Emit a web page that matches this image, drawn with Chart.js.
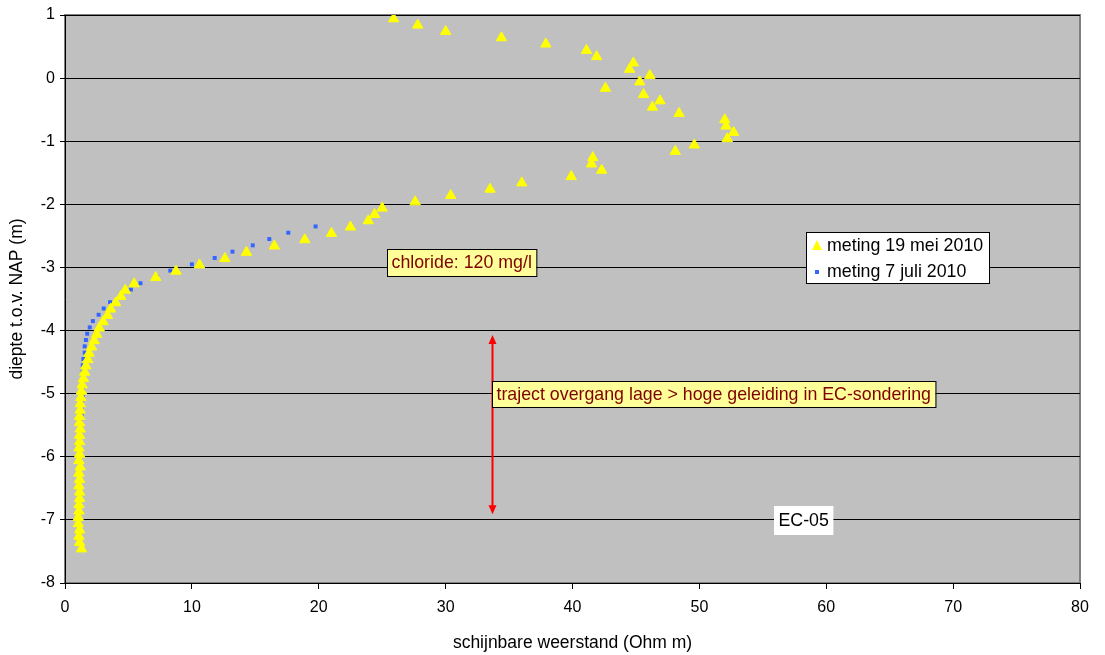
<!DOCTYPE html>
<html>
<head>
<meta charset="utf-8">
<script src="https://cdn.jsdelivr.net/npm/chart.js@4.4.1/dist/chart.umd.min.js"></script>
<style>
  html, body { margin: 0; padding: 0; background: #ffffff; }
  #wrap { width: 1105px; height: 655px; }
</style>
</head>
<body>
<div id="wrap"><canvas id="myChart" width="1105" height="655"></canvas></div>
<script>
'use strict';

/* Data: meting 19 mei 2010 (diepte m t.o.v. NAP, weerstand Ohm m) */
const depthMei = [
  0.94, 0.84, 0.74, 0.64, 0.54, 0.44, 0.34, 0.24, 0.14, 0.04,
  -0.06, -0.16, -0.26, -0.36, -0.46, -0.56, -0.66, -0.76, -0.86, -0.96,
  -1.06, -1.16, -1.26, -1.36, -1.46, -1.56, -1.66, -1.76, -1.86, -1.96,
  -2.06, -2.16, -2.26, -2.36, -2.46, -2.56, -2.66, -2.76, -2.86, -2.96,
  -3.06, -3.16, -3.26, -3.36, -3.46, -3.56, -3.66, -3.76, -3.86, -3.96,
  -4.06, -4.16, -4.26, -4.36, -4.46, -4.56, -4.66, -4.76, -4.86, -4.96,
  -5.06, -5.16, -5.26, -5.36, -5.46, -5.56, -5.66, -5.76, -5.86, -5.96,
  -6.06, -6.16, -6.26, -6.36, -6.46, -6.56, -6.66, -6.76, -6.86, -6.96,
  -7.06, -7.16, -7.26, -7.36, -7.46
];
const resMei = [
  25.9, 27.8, 30.0, 34.4, 37.9, 41.1, 41.9, 44.8, 44.5, 46.1,
  45.3, 42.6, 45.6, 46.9, 46.3, 48.4, 52.0, 52.1, 52.7, 52.2,
  49.6, 48.1, 41.6, 41.5, 42.3, 39.9, 36.0, 33.5, 30.4, 27.6,
  25.0, 24.4, 23.9, 22.5, 21.0, 18.9, 16.5, 14.3, 12.6, 10.6,
  8.75, 7.15, 5.45, 4.75, 4.4, 4.0, 3.6, 3.35, 3.0, 2.7,
  2.5, 2.3, 2.1, 1.9, 1.8, 1.65, 1.55, 1.45, 1.35, 1.3,
  1.25, 1.2, 1.2, 1.15, 1.15, 1.2, 1.15, 1.15, 1.1, 1.15,
  1.1, 1.2, 1.1, 1.15, 1.1, 1.15, 1.15, 1.1, 1.1, 1.05,
  1.05, 1.15, 1.1, 1.15, 1.3
];

/* Data: meting 7 juli 2010 */
const depthJuli = [
  -2.35, -2.45, -2.55, -2.65, -2.75, -2.85, -2.95, -3.05, -3.15, -3.25,
  -3.35, -3.45, -3.55, -3.65, -3.75, -3.85, -3.95, -4.05, -4.15, -4.25,
  -4.35, -4.45, -4.55, -4.65, -4.75, -4.85, -4.95, -5.05, -5.15, -5.25,
  -5.35, -5.45, -5.55, -5.65, -5.75, -5.85, -5.95, -6.05
];
const resJuli = [
  19.75, 17.6, 16.1, 14.8, 13.2, 11.8, 10.0, 8.3, 7.25, 5.95,
  5.2, 4.35, 3.55, 3.05, 2.65, 2.2, 1.95, 1.75, 1.65, 1.55,
  1.55, 1.45, 1.4, 1.4, 1.4, 1.4, 1.4, 1.4, 1.3, 1.3,
  1.3, 1.25, 1.2, 1.2, 1.15, 1.15, 1.15, 1.15
];

const seriesNames = ['meting 19 mei 2010', 'meting 7 juli 2010'];
const xTickStep = 10;   // 0 .. 80
const yTickStep = 1;    // -8 .. 1

const FONT = 'Arial, "Liberation Sans", sans-serif';
const NOTE_FONT = '17.8px ' + FONT;

function toPoints(xs, ys) {
  return xs.map((x, i) => ({ x: x, y: ys[i] }));
}

/* Plot area background and frame */
const plotFrame = {
  id: 'plotFrame',
  beforeDraw(chart) {
    const { ctx, chartArea: a } = chart;
    ctx.save();
    ctx.fillStyle = '#C0C0C0';
    ctx.fillRect(a.left, a.top, a.right - a.left, a.bottom - a.top);
    ctx.strokeStyle = '#808080';
    ctx.lineWidth = 2;
    ctx.strokeRect(a.left, a.top, a.right - a.left, a.bottom - a.top);
    ctx.restore();
  }
};

/* Annotations: text boxes, arrow and legend */
const notes = {
  id: 'notes',
  afterDatasetsDraw(chart) {
    const { ctx } = chart;
    const xs = chart.scales.x, ys = chart.scales.y;
    const px = v => xs.getPixelForValue(v);
    const py = v => ys.getPixelForValue(v);

    function box(text, x, y, h, fill, stroke, color) {
      ctx.font = NOTE_FONT;
      const w = ctx.measureText(text).width + 9;
      ctx.fillStyle = fill;
      ctx.fillRect(x, y, w, h);
      if (stroke) {
        ctx.strokeStyle = stroke;
        ctx.lineWidth = 1;
        ctx.strokeRect(x + 0.5, y + 0.5, w, h);
      }
      ctx.fillStyle = color;
      ctx.textBaseline = 'middle';
      ctx.textAlign = 'left';
      ctx.fillText(text, x + 4.5, y + h / 2 + 1);
    }

    ctx.save();

    // red double arrow
    const ax = Math.round(px(33.65)) + 0.5;
    const ay1 = py(-4.07), ay2 = py(-6.91);
    ctx.strokeStyle = '#FF0000';
    ctx.fillStyle = '#FF0000';
    ctx.lineWidth = 2;
    ctx.beginPath();
    ctx.moveTo(ax, ay1 + 6);
    ctx.lineTo(ax, ay2 - 6);
    ctx.stroke();
    ctx.beginPath();
    ctx.moveTo(ax, ay1);
    ctx.lineTo(ax - 4, ay1 + 9);
    ctx.lineTo(ax + 4, ay1 + 9);
    ctx.closePath();
    ctx.fill();
    ctx.beginPath();
    ctx.moveTo(ax, ay2);
    ctx.lineTo(ax - 4, ay2 - 9);
    ctx.lineTo(ax + 4, ay2 - 9);
    ctx.closePath();
    ctx.fill();

    box('chloride: 120 mg/l', Math.round(px(25.35)), Math.round(py(-2.7)), 27, '#FFFF99', '#000000', '#800000');
    box('traject overgang lage > hoge geleiding in EC-sondering', Math.round(px(33.65)), Math.round(py(-4.8)), 26, '#FFFF99', '#000000', '#800000');
    box('EC-05', Math.round(px(55.9)), Math.round(py(-6.78)), 29, '#FFFFFF', null, '#000000');

    // legend
    const lx = 806, ly = 232, lw = 183, lh = 51;
    ctx.fillStyle = '#FFFFFF';
    ctx.fillRect(lx, ly, lw, lh);
    ctx.strokeStyle = '#000000';
    ctx.lineWidth = 1;
    ctx.strokeRect(lx + 0.5, ly + 0.5, lw, lh);

    ctx.fillStyle = '#FFFF00';
    ctx.beginPath();
    ctx.moveTo(817, 240);
    ctx.lineTo(822, 250);
    ctx.lineTo(812, 250);
    ctx.closePath();
    ctx.fill();
    ctx.fillStyle = '#3366FF';
    ctx.fillRect(815, 270, 4, 4);

    ctx.fillStyle = '#000000';
    ctx.font = NOTE_FONT;
    ctx.textBaseline = 'middle';
    ctx.textAlign = 'left';
    ctx.fillText(seriesNames[0], 827, 246);
    ctx.fillText(seriesNames[1], 827, 272);

    ctx.restore();
  }
};

const ctx = document.getElementById('myChart').getContext('2d');

const chart = new Chart(ctx, {
  type: 'scatter',
  data: {
    datasets: [{
      label: seriesNames[0],
      data: toPoints(resMei, depthMei),
      pointStyle: 'triangle',
      pointRadius: 6,
      pointBorderWidth: 1,
      backgroundColor: '#FFFF00',
      borderColor: '#FFFF00',
      showLine: false,
    },
    {
      label: seriesNames[1],
      data: toPoints(resJuli, depthJuli),
      pointStyle: 'rect',
      pointRadius: 2.8,
      pointBorderWidth: 0,
      backgroundColor: '#3366FF',
      borderColor: '#3366FF',
      showLine: false,
    }]
  },
  options: {
    responsive: false,
    animation: false,
    devicePixelRatio: 1,
    layout: { padding: { top: 15, right: 25, left: 0, bottom: 0 } },
    plugins: {
      legend: { display: false },
      tooltip: { enabled: false },
    },
    scales: {
      x: {
        type: 'linear',
        min: 0,
        max: 80,
        afterFit: s => { s.height = 72; },
        ticks: {
          stepSize: xTickStep,
          color: '#000000',
          padding: 9,
          font: { family: FONT, size: 16 },
        },
        grid: {
          drawOnChartArea: false,
          tickLength: 6,
          color: '#000000',
        },
        border: { color: '#000000', width: 1 },
        title: {
          display: true,
          text: 'schijnbare weerstand (Ohm m)',
          color: '#000000',
          font: { family: FONT, size: 17.5 },
          padding: { top: 0, bottom: 1 },
        },
      },
      y: {
        type: 'linear',
        min: -8,
        max: 1,
        afterFit: s => { s.width = 65; },
        ticks: {
          stepSize: yTickStep,
          color: '#000000',
          padding: 5,
          font: { family: FONT, size: 16 },
        },
        grid: {
          tickLength: 5,
          color: '#000000',
          lineWidth: 1,
        },
        border: { color: '#000000', width: 1 },
        title: {
          display: true,
          text: 'diepte t.o.v. NAP (m)',
          color: '#000000',
          font: { family: FONT, size: 17.5 },
          padding: { top: 7, bottom: 0 },
        },
      }
    }
  },
  plugins: [plotFrame, notes],
});
</script>
</body>
</html>
